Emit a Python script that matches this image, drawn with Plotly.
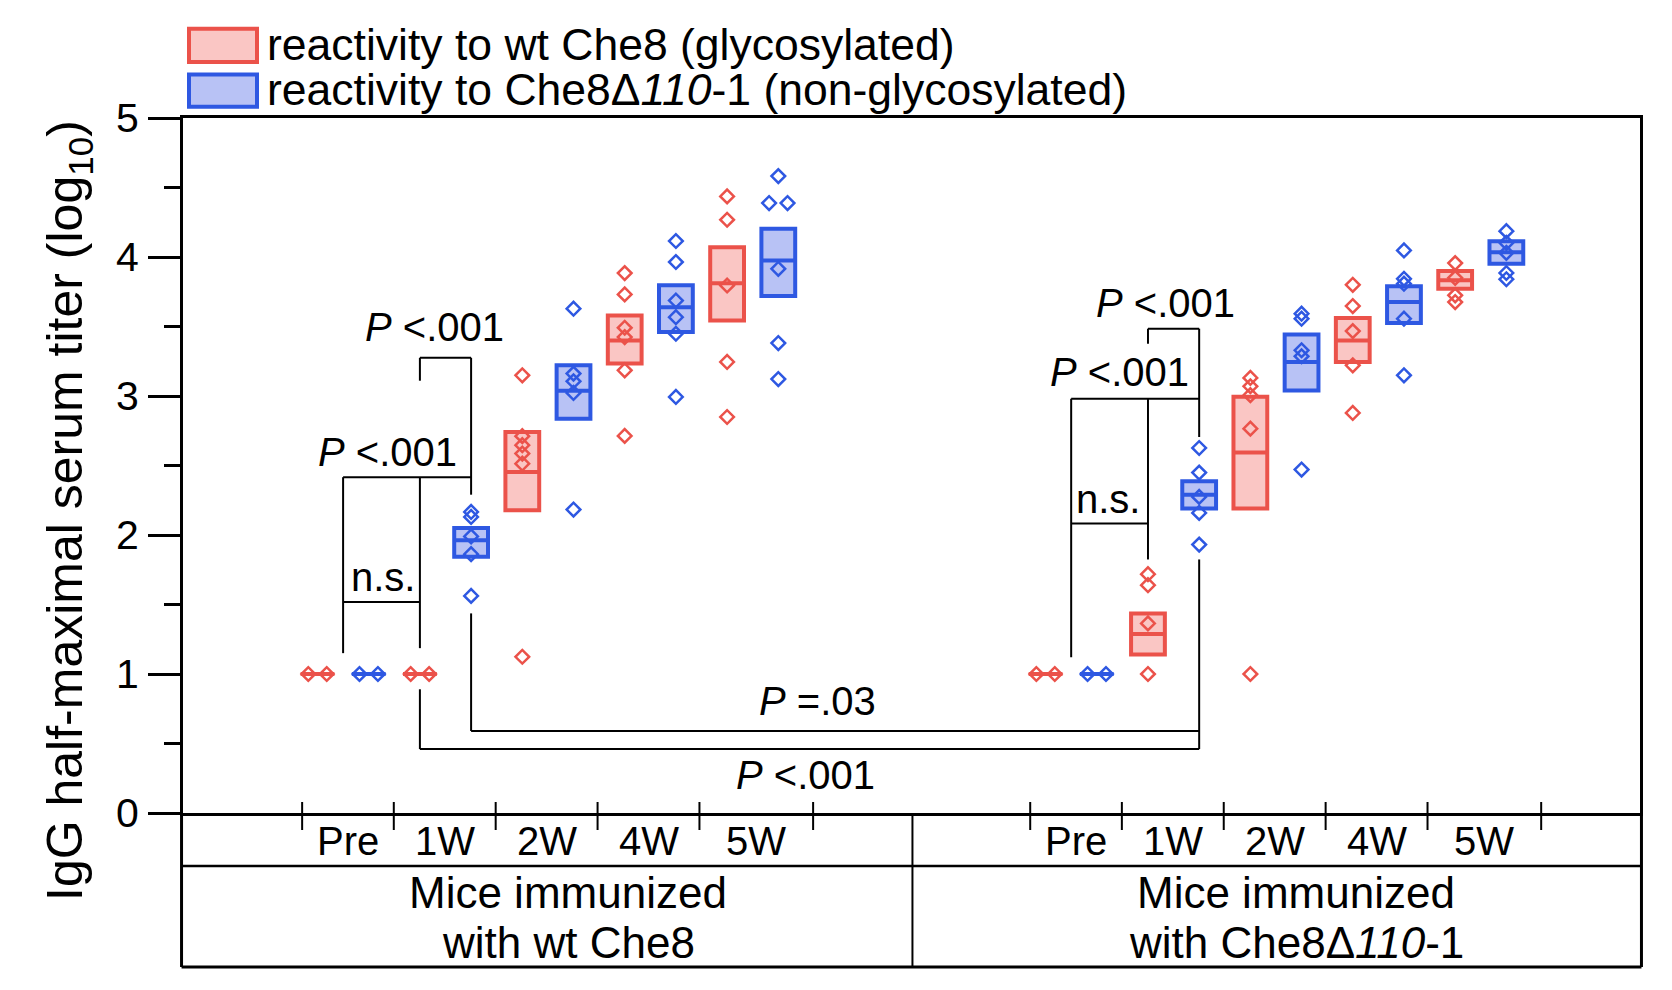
import plotly.graph_objects as go

# ---------------- data ----------------
timepoints = ["Pre", "1W", "2W", "4W", "5W"]
group_line1 = ["Mice immunized", "Mice immunized"]
group_line2 = ["with wt Che8", "with Che8Δ<i>110</i>-1"]
series_names = ["reactivity to wt Che8 (glycosylated)",
                "reactivity to Che8Δ<i>110</i>-1 (non-glycosylated)"]

# mice immunized with wt Che8
wt_red_lo = [1, 1, 2.178, 3.233, 3.544]
wt_red_mean = [1, 1, 2.454, 3.400, 3.812]
wt_red_hi = [1, 1, 2.741, 3.580, 4.071]
wt_blue_lo = [1, 1.843, 2.837, 3.460, 3.719]
wt_blue_mean = [1, 1.963, 3.037, 3.639, 3.975]
wt_blue_hi = [1, 2.051, 3.221, 3.796, 4.203]
wt_red_pts = [[1, 1], [1, 1],
              [3.149, 2.711, 2.646, 2.586, 2.513, 1.124],
              [3.884, 3.731, 3.491, 3.424, 3.185, 2.713],
              [4.436, 4.268, 3.795, 3.245, 2.849]]
wt_blue_pts = [[1, 1],
               [2.166, 2.130, 1.990, 1.862, 1.562],
               [3.628, 3.161, 3.106, 3.022, 2.183],
               [4.115, 3.964, 3.687, 3.567, 3.448, 2.993],
               [4.582, 4.388, 4.388, 3.915, 3.381, 3.122]]

# mice immunized with Che8Δ110-1
mut_red_lo = [1, 1.141, 2.190, 3.245, 3.772]
mut_red_mean = [1, 1.287, 2.593, 3.400, 3.832]
mut_red_hi = [1, 1.436, 2.994, 3.561, 3.899]
mut_blue_lo = [1, 2.190, 3.040, 3.525, 3.951]
mut_blue_mean = [1, 2.290, 3.245, 3.676, 4.035]
mut_blue_hi = [1, 2.387, 3.443, 3.790, 4.114]
mut_red_pts = [[1, 1],
               [1.718, 1.639, 1.364, 1.0],
               [3.130, 3.070, 3.006, 2.765, 1.0],
               [3.800, 3.647, 3.467, 3.221, 2.878],
               [3.956, 3.850, 3.724, 3.676]]
mut_blue_pts = [[1, 1],
                [2.626, 2.449, 2.274, 2.159, 1.931],
                [3.592, 3.556, 3.329, 3.286, 2.471],
                [4.047, 3.843, 3.808, 3.556, 3.149],
                [4.186, 4.102, 4.030, 3.885, 3.840]]

# significance labels
sig_labels = ["<i>P</i> &lt;.001", "<i>P</i> &lt;.001", "n.s.",
              "<i>P</i> &lt;.001", "<i>P</i> &lt;.001", "n.s.",
              "<i>P</i> =.03", "<i>P</i> &lt;.001"]

# ---------------- layout constants ----------------
RED = "#EB524A"
RED_FILL = "#FAC6C4"
BLUE = "#2E58E2"
BLUE_FILL = "#B8C2F5"
FONT = "Liberation Sans, Arial, Helvetica, sans-serif"
GROUP_START = [0.0, 14.22]
BOX_W = 0.66
OFF = 8                      # page body margin of the html page
W, H = 1672 - 2 * OFF, 990 - 2 * OFF
ML, MT = 183 - OFF, 118 - OFF
MR = W - (1640 - OFF)
MB = H - (813 - OFF)
PW, PH = W - ML - MR, H - MT - MB


def pos(g, t, s):
    return GROUP_START[g] + 2 * t + s


def spread(vals):
    offs = []
    seen = {}
    for v in vals:
        n = sum(1 for u in vals if abs(u - v) < 1e-6)
        k = seen.get(v, 0)
        seen[v] = k + 1
        offs.append(0.0 if n == 1 else (-0.18 if k % 2 == 0 else 0.18))
    return offs


def py_to_paper(py):
    # py: pixel row in the screenshot
    return (H - MB - (py - OFF)) / PH


def px_to_paper(px):
    return ((px - OFF) - ML) / PW


fig = go.Figure()

# ---------------- significance brackets ----------------
L_PRE = (pos(0, 0, 0) + pos(0, 0, 1)) / 2
L_1R, L_1B = pos(0, 1, 0), pos(0, 1, 1)
R_PRE = (pos(1, 0, 0) + pos(1, 0, 1)) / 2
R_1R, R_1B = pos(1, 1, 0), pos(1, 1, 1)
segs = [
    (L_PRE, 1.15, L_PRE, 2.416), (L_PRE, 1.518, L_1R, 1.518),
    (L_1R, 1.186, L_1R, 2.416), (L_PRE, 2.416, L_1B, 2.416),
    (L_1R, 3.11, L_1R, 3.275), (L_1R, 3.275, L_1B, 3.275),
    (L_1B, 2.29, L_1B, 3.275), (L_1B, 0.59, L_1B, 1.436),
    (L_1B, 0.59, R_1B, 0.59), (L_1R, 0.46, L_1R, 0.89),
    (L_1R, 0.46, R_1B, 0.46),
    (R_PRE, 1.12, R_PRE, 2.98), (R_PRE, 2.083, R_1R, 2.083),
    (R_1R, 1.824, R_1R, 2.98), (R_PRE, 2.98, R_1B, 2.98),
    (R_1R, 3.376, R_1R, 3.484), (R_1R, 3.484, R_1B, 3.484),
    (R_1B, 2.705, R_1B, 3.484), (R_1B, 0.46, R_1B, 1.824),
]
bx, by = [], []
for x0, y0, x1, y1 in segs:
    bx += [x0, x1, None]
    by += [y0, y1, None]
fig.add_trace(go.Scatter(x=bx, y=by, mode="lines",
                         line=dict(color="black", width=2),
                         showlegend=False, hoverinfo="skip"))

sig_x = [L_1R + 0.28, L_PRE + 0.87, L_PRE + 0.77,
         R_1R + 0.35, R_PRE + 0.95, R_PRE + 0.72,
         9.76, 9.53]
sig_y = [3.50, 2.60, 1.70, 3.67, 3.17, 2.26, 0.805, 0.27]
for txt, x, y in zip(sig_labels, sig_x, sig_y):
    fig.add_annotation(x=x, y=y, xref="x", yref="y", text=txt, showarrow=False,
                       font=dict(size=40, color="black", family=FONT),
                       xanchor="center", yanchor="middle")

# ---------------- boxes (mean ± SEM) ----------------
box_sets = [
    (0, 0, wt_red_lo, wt_red_mean, wt_red_hi),
    (0, 1, wt_blue_lo, wt_blue_mean, wt_blue_hi),
    (1, 0, mut_red_lo, mut_red_mean, mut_red_hi),
    (1, 1, mut_blue_lo, mut_blue_mean, mut_blue_hi),
]
for g, s, lo, mean, hi in box_sets:
    fig.add_trace(go.Box(
        x=[pos(g, t, s) for t in range(len(timepoints))],
        q1=lo, median=mean, q3=hi, lowerfence=lo, upperfence=hi,
        width=BOX_W, whiskerwidth=0,
        fillcolor=RED_FILL if s == 0 else BLUE_FILL,
        line=dict(color=RED if s == 0 else BLUE, width=4),
        showlegend=False, hoverinfo="skip"))

# ---------------- individual mice ----------------
pt_sets = [(0, 0, wt_red_pts), (0, 1, wt_blue_pts),
           (1, 0, mut_red_pts), (1, 1, mut_blue_pts)]
for g, s, pts in pt_sets:
    xs, ys = [], []
    for t, vals in enumerate(pts):
        for v, o in zip(vals, spread(vals)):
            xs.append(pos(g, t, s) + o)
            ys.append(v)
    fig.add_trace(go.Scatter(
        x=xs, y=ys, mode="markers",
        marker=dict(symbol="diamond-open", size=10.5,
                    color=RED if s == 0 else BLUE,
                    line=dict(width=2.5, color=RED if s == 0 else BLUE)),
        showlegend=False, hoverinfo="skip"))

# ---------------- category table below the axis ----------------
bounds = [-0.30, 1.49, 3.48, 5.47, 7.46, 9.68]
y_mid = py_to_paper(866)
y_bot = py_to_paper(967)
shapes = []
for g in range(2):
    for b in bounds:
        shapes.append(dict(type="line", xref="x", yref="paper",
                           x0=GROUP_START[g] + b, x1=GROUP_START[g] + b,
                           y0=py_to_paper(802), y1=py_to_paper(830),
                           line=dict(color="black", width=2)))
    for t, lab in enumerate(timepoints):
        fig.add_annotation(x=GROUP_START[g] + (bounds[t] + bounds[t + 1]) / 2,
                           y=py_to_paper(841), xref="x", yref="paper",
                           text=lab, showarrow=False,
                           font=dict(size=40, color="black", family=FONT),
                           xanchor="center", yanchor="middle")
    fig.add_annotation(x=GROUP_START[g] + 4.9, y=py_to_paper(892),
                       xref="x", yref="paper", text=group_line1[g], showarrow=False,
                       font=dict(size=44, color="black", family=FONT),
                       xanchor="center", yanchor="middle")
    fig.add_annotation(x=GROUP_START[g] + 4.9, y=py_to_paper(942),
                       xref="x", yref="paper", text=group_line2[g], showarrow=False,
                       font=dict(size=44, color="black", family=FONT),
                       xanchor="center", yanchor="middle")

# frame lines of the table
shapes += [
    dict(type="line", xref="paper", yref="paper", x0=-0.001, x1=-0.001,
         y0=0, y1=y_bot, line=dict(color="black", width=3)),
    dict(type="line", xref="paper", yref="paper", x0=1.001, x1=1.001,
         y0=0, y1=y_bot, line=dict(color="black", width=3)),
    dict(type="line", xref="paper", yref="paper", x0=-0.001, x1=1.001,
         y0=y_bot, y1=y_bot, line=dict(color="black", width=3)),
    dict(type="line", xref="paper", yref="paper", x0=0, x1=1,
         y0=y_mid, y1=y_mid, line=dict(color="black", width=2.5)),
    dict(type="line", xref="x", yref="paper", x0=11.62, x1=11.62,
         y0=0, y1=y_bot, line=dict(color="black", width=2)),
]

# ---------------- legend (drawn) ----------------
leg_cols = [(RED, RED_FILL), (BLUE, BLUE_FILL)]
leg_rows = [(28.7, 62.0, 44.8), (74.6, 106.8, 89.6)]
for (edge, fill), (t0, t1, tc), name in zip(leg_cols, leg_rows, series_names):
    shapes.append(dict(type="rect", xref="paper", yref="paper",
                       x0=px_to_paper(189), x1=px_to_paper(257),
                       y0=py_to_paper(t1), y1=py_to_paper(t0),
                       fillcolor=fill, line=dict(color=edge, width=4)))
    fig.add_annotation(x=px_to_paper(265), y=py_to_paper(tc), xref="paper", yref="paper",
                       text=name, showarrow=False, xanchor="left", yanchor="middle",
                       font=dict(size=44.5, color="black", family=FONT))

# y title
fig.add_annotation(x=px_to_paper(68), y=py_to_paper(511), xref="paper", yref="paper",
                   text="IgG half-maximal serum titer (log<sub>10</sub>)",
                   textangle=-90, showarrow=False, xanchor="center", yanchor="middle",
                   font=dict(size=50, color="black", family=FONT))

fig.update_layout(
    width=W, height=H,
    margin=dict(l=ML, r=MR, t=MT, b=MB, pad=0),
    paper_bgcolor="white", plot_bgcolor="white",
    boxmode="overlay", showlegend=False,
    shapes=shapes,
    font=dict(family=FONT, color="black"),
    xaxis=dict(range=[-2.627, 25.83], showgrid=False, zeroline=False,
               showticklabels=False, ticks="", showline=True, mirror=True,
               linecolor="black", linewidth=3, fixedrange=True),
    yaxis=dict(range=[0, 5], showgrid=False, zeroline=False,
               tickvals=[0, 1, 2, 3, 4, 5], ticks="outside", ticklen=32,
               tickwidth=2.5, tickcolor="black", showline=True, mirror=True,
               linecolor="black", linewidth=3, ticklabelstandoff=1,
               tickfont=dict(size=41, color="black", family=FONT),
               minor=dict(dtick=0.5, ticks="outside", ticklen=16,
                          tickwidth=2.5, tickcolor="black"),
               fixedrange=True),
)

fig.write_html("out.html")
